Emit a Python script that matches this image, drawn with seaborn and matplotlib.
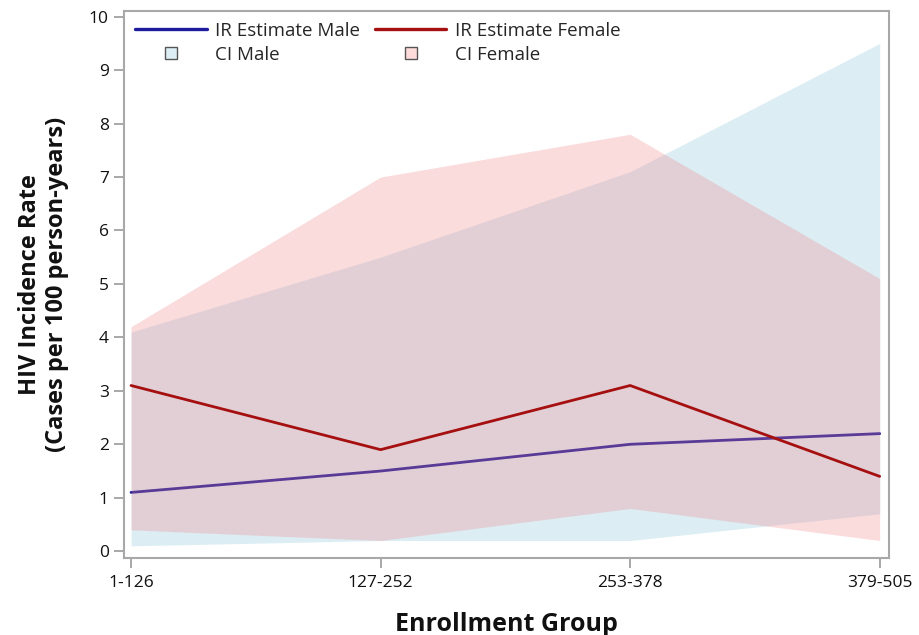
import matplotlib
matplotlib.use("Agg")
import matplotlib.pyplot as plt
from matplotlib.lines import Line2D
import numpy as np
import pandas as pd
import seaborn as sns

# Enrollment groups and incidence-rate estimates (cases per 100 person-years)
groups = ["1-126", "127-252", "253-378", "379-505"]
ir_male = [1.1, 1.5, 2.0, 2.2]
ir_female = [3.1, 1.9, 3.1, 1.4]
ci_male_low = [0.1, 0.2, 0.2, 0.7]
ci_male_high = [4.1, 5.5, 7.1, 9.5]
ci_female_low = [0.4, 0.2, 0.8, 0.2]
ci_female_high = [4.2, 7.0, 7.8, 5.1]

male_line = "#1c1c9c"
female_line = "#a50f0f"
male_fill = "#8ec6da"
female_fill = "#f0878c"

sns.set_theme(style="white")
plt.rcParams["font.family"] = ["Open Sans", "DejaVu Sans"]

df = pd.DataFrame({
    "pos": np.arange(len(groups)),
    "group": groups,
    "male": ir_male,
    "female": ir_female,
})

fig = plt.figure(figsize=(9.19, 6.35), dpi=100)
ax = fig.add_axes([0.135, 0.121, 0.832, 0.862])

x = df["pos"].to_numpy()
ax.fill_between(x, ci_male_low, ci_male_high, color=male_fill, alpha=0.30,
                linewidth=0, zorder=1)
sns.lineplot(data=df, x="pos", y="male", color=male_line, linewidth=2,
             ax=ax, zorder=2)
ax.fill_between(x, ci_female_low, ci_female_high, color=female_fill, alpha=0.29,
                linewidth=0, zorder=3)
sns.lineplot(data=df, x="pos", y="female", color=female_line, linewidth=2,
             ax=ax, zorder=4)

ax.set_xlim(-0.028, 3.036)
ax.set_ylim(-0.13, 10.11)
ax.set_xticks(x)
ax.set_xticklabels(groups)
ax.set_yticks(range(0, 11))

for side in ax.spines.values():
    side.set_color("#a8a8a8")
    side.set_linewidth(1.5)
ax.tick_params(axis="both", which="major", direction="out", length=7,
               width=1.2, color="#9a9a9a", labelsize=12.5, labelcolor="#111111",
               bottom=True, left=True, pad=4)
ax.tick_params(axis="x", pad=5)

ax.set_xlabel("Enrollment Group", fontsize=18, fontweight="bold",
              labelpad=15, color="#111111")
ax.set_ylabel("HIV Incidence Rate\n(Cases per 100 person-years)", fontsize=17,
              fontweight="bold", labelpad=14, color="#111111",
              linespacing=1.2)

handles = [
    Line2D([0], [0], color=male_line, linewidth=2.4),
    Line2D([0], [0], linestyle="none", marker="s", markersize=8,
           markerfacecolor="#ddeef4", markeredgecolor="#555555",
           markeredgewidth=1.0),
    Line2D([0], [0], color=female_line, linewidth=2.4),
    Line2D([0], [0], linestyle="none", marker="s", markersize=8,
           markerfacecolor="#ffdcdc", markeredgecolor="#555555",
           markeredgewidth=1.0),
]
labels = ["IR Estimate Male", "CI Male", "IR Estimate Female", "CI Female"]
ax.legend(handles, labels, loc="upper left", ncol=2, frameon=False,
          fontsize=13.5, handlelength=3.8, handletextpad=0.45,
          columnspacing=0.8, labelspacing=0.3,
          borderaxespad=0.2, bbox_to_anchor=(0.0, 1.0))

fig.savefig("out.png", dpi=100)
